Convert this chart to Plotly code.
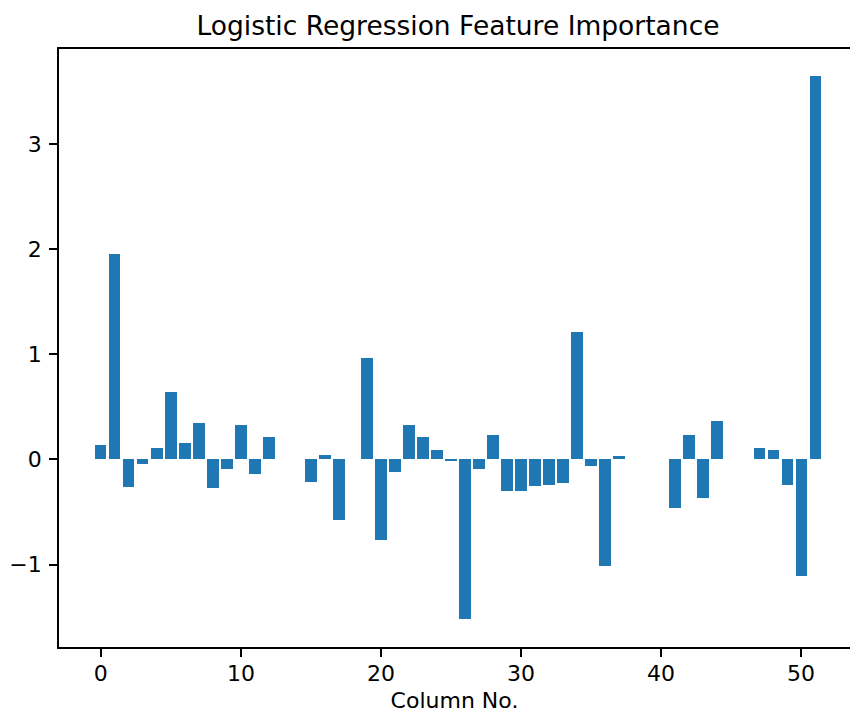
import plotly.graph_objects as go

columns = list(range(52))
importance = [
    0.137, 1.956, -0.26, -0.045, 0.108, 0.638, 0.152, 0.343, -0.275, -0.092,
    0.327, -0.136, 0.213, 0.0, 0.0, -0.212, 0.045, -0.58, 0.0, 0.966,
    -0.768, -0.12, 0.327, 0.213, 0.092, -0.015, -1.518, -0.092, 0.233, -0.302,
    -0.302, -0.256, -0.24, -0.228, 1.212, -0.061, -1.014, 0.028, 0.0, 0.0,
    0.0, -0.464, 0.232, -0.368, 0.368, 0.0, 0.0, 0.106, 0.089, -0.245,
    -1.111, 3.65,
]
x_ticks = [0, 10, 20, 30, 40, 50]
y_ticks = [-1, 0, 1, 2, 3]

FONT = "DejaVu Sans"
W, H = 850, 713
L, T, B = 59.3, 49.3, 66.3

fig = go.Figure(
    go.Bar(
        x=columns,
        y=importance,
        width=0.8,
        marker=dict(color="#1f77b4", line=dict(width=0)),
        hoverinfo="x+y",
    )
)

fig.update_layout(
    width=W,
    height=H,
    margin=dict(l=L, r=0, t=T, b=B, pad=0),
    paper_bgcolor="white",
    plot_bgcolor="white",
    showlegend=False,
    font=dict(family=FONT, size=22, color="black"),
    title=dict(
        text="Logistic Regression Feature Importance",
        font=dict(family=FONT, size=26.5, color="black"),
        xref="container",
        yref="container",
        x=458 / W,
        xanchor="center",
        y=1 - 26 / H,
        yanchor="middle",
    ),
    bargap=0,
)

fig.update_xaxes(
    range=[-2.99, 53.49],
    tickmode="array",
    tickvals=x_ticks,
    ticktext=[str(v) for v in x_ticks],
    ticks="outside",
    ticklen=8,
    tickwidth=1.6,
    tickcolor="black",
    ticklabelstandoff=-2,
    showline=True,
    linecolor="black",
    linewidth=1.6,
    mirror=True,
    showgrid=False,
    zeroline=False,
    tickfont=dict(family=FONT, size=22, color="black"),
    title=dict(text="Column No.", font=dict(family=FONT, size=22, color="black"), standoff=11),
)

fig.update_yaxes(
    range=[-1.785, 3.905],
    tickmode="array",
    tickvals=y_ticks,
    ticks="outside",
    ticklen=8,
    tickwidth=1.6,
    tickcolor="black",
    ticklabelstandoff=3,
    showline=True,
    linecolor="black",
    linewidth=1.6,
    mirror=False,
    showgrid=False,
    zeroline=False,
    tickfont=dict(family=FONT, size=22, color="black"),
)

fig.write_html("out.html")
